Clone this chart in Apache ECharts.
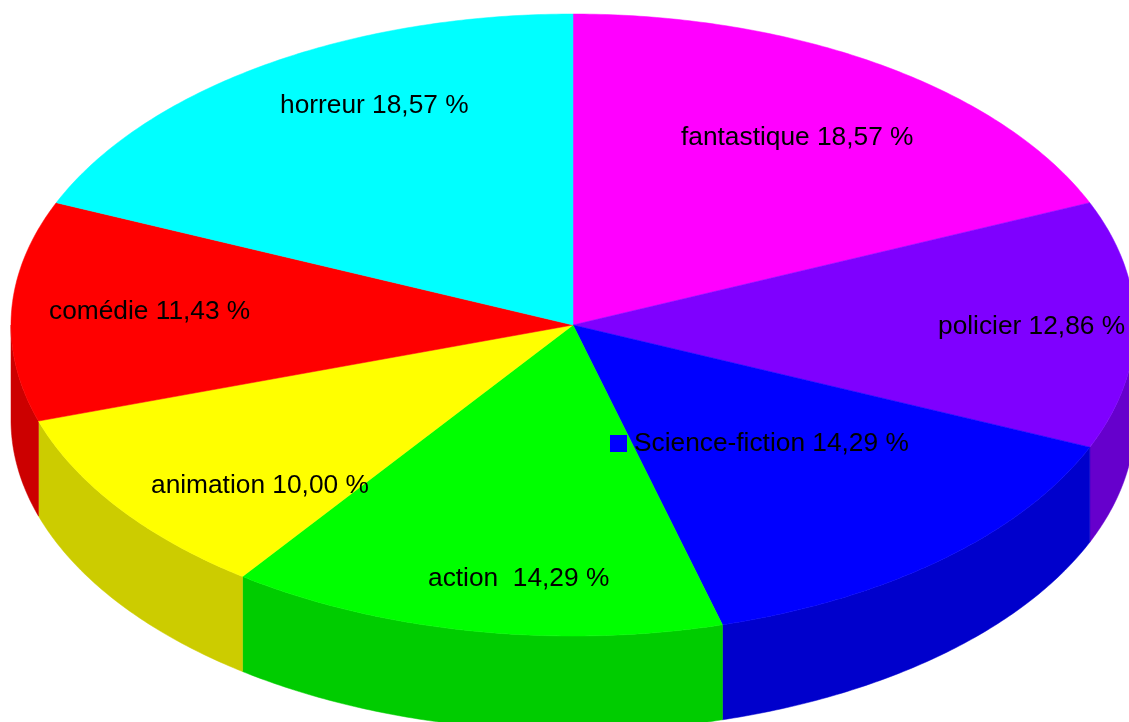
<!DOCTYPE html>
<html style="height: 100%">
<head>
    <meta charset="utf-8">
    <script src="https://cdn.jsdelivr.net/npm/echarts@6/dist/echarts.min.js"></script>
    <title>Genres</title>
</head>
<body style="height: 100%; margin: 0; background: #fff">
<div id="container" style="width: 1129px; height: 722px; filter: blur(0.5px)"></div>
<script type="text/javascript">
// clockwise from 12 o'clock
const categories = ['fantastique', 'policier', 'Science-fiction', 'action ', 'animation', 'comédie', 'horreur'];
const percents = [18.57, 12.86, 14.29, 14.29, 10.00, 11.43, 18.57];
const topColors = ['#ff00ff', '#7f00ff', '#0000ff', '#00ff00', '#ffff00', '#ff0000', '#00ffff'];
const sideColors = ['#cc00cc', '#6600cc', '#0000cc', '#00cc00', '#cccc00', '#cc0000', '#00cccc'];

// pie geometry and label placement, in pixels
const cx = 573, cy = 325, rx = 562, ry = 311, depth = 95;
const labelLeft = [681, 938, 634, 428, 151, 49, 280];
const labelMiddle = [138, 327, 444, 579, 486, 312, 106];
const keyMiddle = [137, 326, 443, 578, 485, 311, 105];
const fontSize = 26.3;

const total = percents.reduce((a, b) => a + b, 0);
let acc = 0;
const sliceAngles = percents.map(v => {
    const from = acc / total * Math.PI * 2;
    acc += v;
    return [from, acc / total * Math.PI * 2];
});

function rimPoint(a, drop) {
    return [cx + rx * Math.sin(a), cy - ry * Math.cos(a) + drop];
}

function arc(from, to, drop) {
    const steps = Math.max(2, Math.ceil((to - from) / 0.01));
    const pts = [];
    for (let i = 0; i <= steps; i++) {
        pts.push(rimPoint(from + (to - from) * i / steps, drop));
    }
    return pts;
}

function renderSide(params, api) {
    const i = api.value(0);
    // only the front half of the rim is visible
    const from = Math.max(sliceAngles[i][0], Math.PI / 2);
    const to = Math.min(sliceAngles[i][1], Math.PI * 1.5);
    if (to <= from) return null;
    const points = arc(from, to, 0).concat(arc(from, to, depth).reverse());
    return {
        type: 'polygon',
        shape: { points: points },
        style: { fill: sideColors[i], stroke: sideColors[i], lineWidth: 0.5 }
    };
}

function renderTop(params, api) {
    const i = api.value(0);
    const points = [[cx, cy]].concat(arc(sliceAngles[i][0], sliceAngles[i][1], 0));
    return {
        type: 'polygon',
        shape: { points: points },
        style: { fill: topColors[i], stroke: topColors[i], lineWidth: 0.5 }
    };
}

function renderLabel(params, api) {
    const i = api.value(0);
    const pct = percents[i].toFixed(2).replace('.', ',');
    return {
        type: 'group',
        children: [
            {
                type: 'rect',
                shape: { x: labelLeft[i] - 24, y: keyMiddle[i] - 8, width: 17, height: 17 },
                style: { fill: topColors[i] }
            },
            {
                type: 'text',
                style: {
                    x: labelLeft[i],
                    y: labelMiddle[i],
                    text: categories[i] + ' ' + pct + ' %',
                    fill: '#000',
                    font: fontSize + 'px "Liberation Sans"',
                    textAlign: 'left',
                    textVerticalAlign: 'middle'
                }
            }
        ]
    };
}

const rows = categories.map((c, i) => [i]);
const chart = echarts.init(document.getElementById('container'));
chart.setOption({
    animation: false,
    backgroundColor: '#fff',
    series: [
        { type: 'custom', coordinateSystem: 'none', renderItem: renderSide, data: rows, z: 1, silent: true },
        { type: 'custom', coordinateSystem: 'none', renderItem: renderTop, data: rows, z: 2, silent: true },
        { type: 'custom', coordinateSystem: 'none', renderItem: renderLabel, data: rows, z: 3, silent: true }
    ]
});
</script>
</body>
</html>
